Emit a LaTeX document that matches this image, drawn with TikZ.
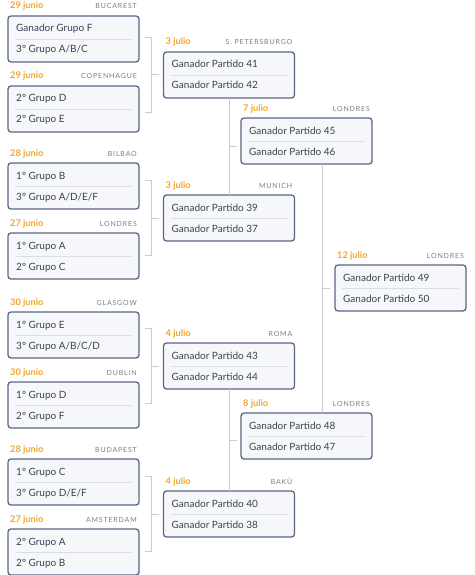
\documentclass[tikz,border=0pt]{standalone}
\usepackage{fontspec}
\setmainfont{Lato}
\usetikzlibrary{calc}
\definecolor{boxborder}{HTML}{5A6684}
\definecolor{boxfill}{HTML}{F5F7FA}
\definecolor{divline}{HTML}{DADDE3}
\definecolor{txt}{HTML}{3C414C}
\definecolor{datecol}{HTML}{F2A524}
\definecolor{placecol}{HTML}{7A7D82}
\definecolor{conncol}{HTML}{C9CBCF}
\tikzset{
  matchbox/.style={draw=boxborder, fill=boxfill, line width=1.3pt, rounded corners=3pt,
    minimum width=131pt, minimum height=46pt, inner sep=0pt, outer sep=0pt, anchor=north west},
  datetxt/.style={font=\fontsize{9.2}{11}\selectfont\bfseries, text=datecol, inner sep=0pt, anchor=base west},
  placetxt/.style={font=\fontsize{7}{8}\selectfont\addfontfeatures{LetterSpace=12}, text=placecol, inner sep=0pt, anchor=base east},
  linetxt/.style={font=\fontsize{10}{12}\selectfont, text=txt, inner sep=0pt, anchor=base west},
  divider/.style={draw=divline, line width=0.8pt},
  conn/.style={draw=conncol, line width=1pt}
}
% #1 name, #2 x, #3 top y, #4 date, #5 place, #6 line 1, #7 line 2
\newcommand\matchnode[7]{%
  \node[matchbox] (#1) at (#2,#3) {};
  \node[datetxt] (#1-date) at ($(#1.north west)+(2,-7)$) {#4};
  \node[placetxt] (#1-place) at ($(#1.north east)+(-2,-7)$) {#5};
  \node[linetxt] (#1-a) at ($(#1.north west)+(8,16)$) {#6};
  \node[linetxt] (#1-b) at ($(#1.north west)+(8,37)$) {#7};
  \draw[divider] ($(#1.north west)+(7,23)$) -- ($(#1.north east)+(-7,23)$);
}
% bracket from a pair of first-round boxes into the target box
\newcommand\bracketto[1]{%
  \coordinate (#1-bt) at ($(#1.west)+(-18.5,-37.5)$);
  \coordinate (#1-bb) at ($(#1.west)+(-18.5,37.5)$);
  \coordinate (#1-bm) at ($(#1.west)+(-5,0)$);
  \draw[conn] (#1-bt) -- ++(6.5,0) -- ++(0,75) -- (#1-bb);
  \draw[conn] ($(#1.west)+(-12,0)$) -- (#1-bm);
}
\begin{document}
\begin{tikzpicture}[x=1pt,y=-1pt]
\useasboundingbox (0,0) rectangle (474,575);
% column 1
\matchnode{a1}{8}{16}{29 junio}{BUCAREST}{Ganador Grupo F}{3º Grupo A/B/C}
\matchnode{a2}{8}{86}{29 junio}{COPENHAGUE}{2º Grupo D}{2º Grupo E}
\matchnode{a3}{8}{163}{28 junio}{BILBAO}{1º Grupo B}{3º Grupo A/D/E/F}
\matchnode{a4}{8}{233}{27 junio}{LONDRES}{1º Grupo A}{2º Grupo C}
\matchnode{a5}{8}{312}{30 junio}{GLASGOW}{1º Grupo E}{3º Grupo A/B/C/D}
\matchnode{a6}{8}{382}{30 junio}{DUBLIN}{1º Grupo D}{2º Grupo F}
\matchnode{a7}{8}{459}{28 junio}{BUDAPEST}{1º Grupo C}{3º Grupo D/E/F}
\matchnode{a8}{8}{529}{27 junio}{AMSTERDAM}{2º Grupo A}{2º Grupo B}
% column 2
\matchnode{b1}{163.5}{52}{3 julio}{S. PETERSBURGO}{Ganador Partido 41}{Ganador Partido 42}
\matchnode{b2}{163.5}{195}{3 julio}{MUNICH}{Ganador Partido 39}{Ganador Partido 37}
\matchnode{b3}{163.5}{343}{4 julio}{ROMA}{Ganador Partido 43}{Ganador Partido 44}
\matchnode{b4}{163.5}{491}{4 julio}{BAKÙ}{Ganador Partido 40}{Ganador Partido 38}
% column 3
\matchnode{c1}{241}{118}{7 julio}{LONDRES}{Ganador Partido 45}{Ganador Partido 46}
\matchnode{c2}{241}{413}{8 julio}{LONDRES}{Ganador Partido 48}{Ganador Partido 47}
% final
\matchnode{d1}{335}{265}{12 julio}{LONDRES}{Ganador Partido 49}{Ganador Partido 50}
% brackets
\bracketto{b1}
\bracketto{b2}
\bracketto{b3}
\bracketto{b4}
% column 2 -> column 3
\draw[conn] (b1.south) -- (b2.north);
\coordinate (c1-in) at ($(b1.south)!0.5!(b2.north)$);
\draw[conn] (c1-in) -- ++(8,0);
\draw[conn] (b3.south) -- (b4.north);
\coordinate (c2-in) at ($(b3.south)!0.5!(b4.north)$);
\draw[conn] (c2-in) -- ++(8,0);
% column 3 -> final
\coordinate (c1-out) at ($(c1.south)+(15.5,0)$);
\coordinate (c2-out) at ($(c2.north)+(15.5,0)$);
\draw[conn] (c1-out) -- (c2-out);
\coordinate (d1-in) at ($(c1-out)!0.5!(c2-out)$);
\draw[conn] (d1-in) -- ++(8,0);
\end{tikzpicture}
\end{document}
